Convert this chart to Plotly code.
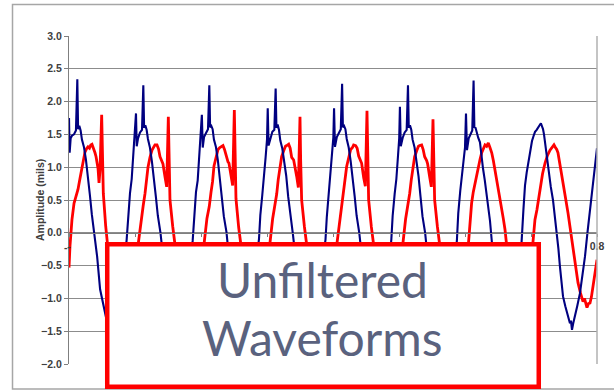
import plotly.graph_objects as go

# Blue channel: time (s) and amplitude (mils)
t_blue = [
    0.0000, 0.0010, 0.0025, 0.0045, 0.0075, 0.0105, 0.0126, 0.0138, 0.0156, 0.0176, 0.0196, 0.0226, 0.0256,
    0.0286, 0.0316, 0.0346, 0.0386, 0.0426, 0.0471, 0.0516, 0.0576, 0.0626, 0.0686, 0.0746, 0.0806, 0.0846,
    0.0874, 0.0894, 0.0924, 0.0950, 0.0974, 0.1000, 0.1015, 0.1026, 0.1046, 0.1076, 0.1106, 0.1126, 0.1138,
    0.1156, 0.1176, 0.1196, 0.1226, 0.1256, 0.1286, 0.1316, 0.1346, 0.1386, 0.1426, 0.1471, 0.1516, 0.1576,
    0.1626, 0.1686, 0.1746, 0.1806, 0.1846,
    0.1874, 0.1894, 0.1924, 0.1950, 0.1974, 0.2000, 0.2013, 0.2026, 0.2046, 0.2076, 0.2106, 0.2126, 0.2138,
    0.2156, 0.2176, 0.2196, 0.2226, 0.2256, 0.2286, 0.2316, 0.2346, 0.2386, 0.2426, 0.2471, 0.2516, 0.2576,
    0.2626, 0.2686, 0.2746, 0.2806, 0.2846,
    0.2879, 0.2899, 0.2929, 0.2955, 0.2979, 0.3000, 0.3011, 0.3024, 0.3051, 0.3081, 0.3111, 0.3131, 0.3143,
    0.3161, 0.3181, 0.3201, 0.3231, 0.3261, 0.3291, 0.3321, 0.3351, 0.3391, 0.3431, 0.3476, 0.3521, 0.3581,
    0.3631, 0.3691, 0.3751, 0.3811, 0.3851,
    0.3886, 0.3906, 0.3936, 0.3962, 0.3986, 0.4005, 0.4016, 0.4030, 0.4058, 0.4088, 0.4118, 0.4138, 0.4150,
    0.4168, 0.4188, 0.4208, 0.4238, 0.4268, 0.4298, 0.4328, 0.4358, 0.4398, 0.4438, 0.4483, 0.4528, 0.4588,
    0.4638, 0.4698, 0.4758, 0.4818, 0.4858,
    0.4884, 0.4904, 0.4934, 0.4960, 0.4984, 0.5003, 0.5014, 0.5027, 0.5056, 0.5086, 0.5116, 0.5136, 0.5148,
    0.5166, 0.5186, 0.5206, 0.5236, 0.5266, 0.5296, 0.5326, 0.5356, 0.5396, 0.5436, 0.5481, 0.5526, 0.5586,
    0.5636, 0.5696, 0.5756, 0.5816, 0.5856,
    0.5878, 0.5898, 0.5928, 0.5954, 0.5978, 0.6000, 0.6015, 0.6030, 0.6056, 0.6086, 0.6110, 0.6130, 0.6142,
    0.6160, 0.6180, 0.6200, 0.6227, 0.6250, 0.6273, 0.6300, 0.6329, 0.6355, 0.6379, 0.6414, 0.6450, 0.6520,
    0.6580, 0.6640, 0.6700, 0.6760, 0.6810,
    0.6855, 0.6885, 0.6909, 0.6935, 0.6960, 0.6985, 0.7015, 0.7040, 0.7061, 0.7086, 0.7110, 0.7130, 0.7150,
    0.7168, 0.7182, 0.7197, 0.7220, 0.7240, 0.7258, 0.7280, 0.7300, 0.7333, 0.7360, 0.7394, 0.7415, 0.7439,
    0.7460, 0.7485, 0.7520, 0.7561, 0.7590, 0.7605, 0.7621, 0.7640, 0.7667, 0.7700, 0.7742, 0.7780, 0.7818,
    0.7855, 0.7894, 0.7930, 0.7970, 0.8000,
]
amp_blue = [
    1.75, 1.22, 1.44, 1.48, 1.50, 1.56, 2.34, 1.58, 1.63, 1.56, 1.42, 1.31, 1.12,
    0.88, 0.58, 0.28, 0.00, -0.36, -0.86, -1.10, -1.36, -1.45, -1.38, -1.08, -0.68, -0.40,
    -0.10, 0.25, 0.60, 0.82, 1.16, 1.46, 1.82, 1.32, 1.44, 1.53, 1.57, 2.25, 1.60,
    1.64, 1.57, 1.43, 1.30, 1.09, 0.86, 0.55, 0.26, 0.00, -0.37, -0.85, -1.11, -1.36,
    -1.46, -1.38, -1.07, -0.68, -0.41,
    -0.12, 0.22, 0.62, 0.80, 1.18, 1.44, 1.80, 1.30, 1.46, 1.52, 1.58, 2.25, 1.61,
    1.63, 1.58, 1.42, 1.31, 1.10, 0.84, 0.57, 0.25, 0.01, -0.38, -0.86, -1.10, -1.35,
    -1.45, -1.37, -1.08, -0.69, -0.40,
    -0.09, 0.27, 0.58, 0.83, 1.15, 1.42, 1.90, 1.33, 1.45, 1.54, 1.57, 2.20, 1.60,
    1.65, 1.57, 1.41, 1.29, 1.11, 0.87, 0.55, 0.27, -0.01, -0.37, -0.84, -1.11, -1.36,
    -1.46, -1.38, -1.08, -0.67, -0.40,
    -0.11, 0.24, 0.61, 0.81, 1.17, 1.45, 1.90, 1.31, 1.46, 1.52, 1.58, 2.27, 1.61,
    1.63, 1.58, 1.43, 1.30, 1.09, 0.85, 0.56, 0.26, 0.00, -0.37, -0.85, -1.10, -1.36,
    -1.45, -1.38, -1.08, -0.68, -0.40,
    -0.10, 0.26, 0.59, 0.82, 1.16, 1.44, 1.92, 1.32, 1.45, 1.53, 1.57, 2.25, 1.60,
    1.64, 1.57, 1.42, 1.30, 1.10, 0.86, 0.55, 0.25, 0.00, -0.38, -0.85, -1.10, -1.36,
    -1.45, -1.38, -1.08, -0.68, -0.40,
    -0.10, 0.30, 0.64, 0.90, 1.18, 1.30, 1.82, 1.26, 1.44, 1.50, 1.56, 2.32, 1.61,
    1.60, 1.52, 1.45, 1.38, 1.15, 0.98, 0.80, 0.58, 0.38, 0.18, -0.22, -0.62, -1.10,
    -1.38, -1.45, -1.32, -0.95, -0.55,
    -0.18, 0.35, 0.72, 0.92, 1.08, 1.26, 1.40, 1.48, 1.54, 1.57, 1.60, 1.64, 1.67,
    1.62, 1.58, 1.50, 1.30, 1.18, 1.00, 0.84, 0.70, 0.50, 0.26, 0.00, -0.24, -0.52,
    -0.74, -0.97, -1.12, -1.28, -1.38, -1.34, -1.48, -1.38, -1.28, -1.12, -0.92, -0.64, -0.36,
    0.00, 0.35, 0.68, 0.96, 1.29,
]

# Red channel: time (s) and amplitude (mils)
t_red = [
    0.0000, 0.0015, 0.0045, 0.0076, 0.0105, 0.0136, 0.0165, 0.0197, 0.0220, 0.0242, 0.0265, 0.0288, 0.0310,
    0.0330, 0.0348, 0.0370, 0.0394, 0.0410, 0.0424, 0.0440, 0.0455, 0.0470, 0.0495, 0.0505, 0.0520, 0.0556,
    0.0586, 0.0655, 0.0735, 0.0815, 0.0895, 0.0975, 0.1015,
    0.1045, 0.1090, 0.1125, 0.1152, 0.1175, 0.1197, 0.1227, 0.1258, 0.1285, 0.1303, 0.1333, 0.1356, 0.1379,
    0.1409, 0.1424, 0.1455, 0.1480, 0.1505, 0.1515, 0.1530, 0.1571, 0.1606, 0.1665, 0.1745, 0.1825, 0.1905,
    0.1985, 0.2025,
    0.2045, 0.2090, 0.2125, 0.2152, 0.2175, 0.2197, 0.2227, 0.2258, 0.2285, 0.2303, 0.2333, 0.2356, 0.2379,
    0.2409, 0.2424, 0.2455, 0.2480, 0.2505, 0.2515, 0.2530, 0.2571, 0.2606, 0.2665, 0.2745, 0.2825, 0.2905,
    0.2985, 0.3020,
    0.3040, 0.3085, 0.3120, 0.3147, 0.3170, 0.3192, 0.3222, 0.3253, 0.3280, 0.3298, 0.3328, 0.3351, 0.3374,
    0.3404, 0.3419, 0.3450, 0.3475, 0.3500, 0.3510, 0.3525, 0.3566, 0.3601, 0.3660, 0.3740, 0.3820, 0.3900,
    0.3980, 0.4020,
    0.4055, 0.4100, 0.4135, 0.4162, 0.4185, 0.4207, 0.4237, 0.4268, 0.4295, 0.4313, 0.4343, 0.4366, 0.4389,
    0.4419, 0.4434, 0.4465, 0.4490, 0.4515, 0.4525, 0.4540, 0.4581, 0.4616, 0.4675, 0.4755, 0.4835, 0.4915,
    0.4995, 0.5035,
    0.5055, 0.5100, 0.5135, 0.5162, 0.5185, 0.5207, 0.5237, 0.5268, 0.5295, 0.5313, 0.5343, 0.5366, 0.5389,
    0.5419, 0.5434, 0.5465, 0.5490, 0.5515, 0.5525, 0.5540, 0.5581, 0.5616, 0.5675, 0.5755, 0.5835, 0.5915,
    0.5995, 0.6030,
    0.6050, 0.6075, 0.6100, 0.6125, 0.6152, 0.6177, 0.6202, 0.6228, 0.6253, 0.6278, 0.6303, 0.6328, 0.6353,
    0.6378, 0.6405, 0.6430, 0.6455, 0.6480, 0.6505, 0.6530, 0.6556, 0.6580, 0.6606, 0.6632, 0.6690, 0.6760,
    0.6840, 0.6920, 0.6980, 0.7010,
    0.7030, 0.7060, 0.7090, 0.7136, 0.7175, 0.7212, 0.7250, 0.7288, 0.7320, 0.7348, 0.7370, 0.7390, 0.7409,
    0.7440, 0.7460, 0.7485, 0.7520, 0.7561, 0.7600, 0.7636, 0.7675, 0.7712, 0.7750, 0.7788, 0.7810, 0.7830,
    0.7848, 0.7870, 0.7894, 0.7915, 0.7939, 0.7970, 0.8000,
]
amp_red = [
    -0.53, -0.20, 0.20, 0.45, 0.55, 0.66, 0.82, 1.00, 1.15, 1.23, 1.28, 1.31, 1.29,
    1.34, 1.35, 1.30, 1.22, 1.16, 1.07, 0.98, 0.76, 0.96, 1.80, 1.11, 0.60, 0.10,
    -0.20, -0.65, -1.05, -1.20, -1.10, -0.75, -0.48,
    -0.20, 0.20, 0.42, 0.60, 0.80, 1.00, 1.15, 1.26, 1.31, 1.34, 1.34, 1.28, 1.16,
    1.10, 1.05, 0.85, 0.70, 1.77, 1.10, 0.50, 0.10, -0.20, -0.65, -1.05, -1.20, -1.10,
    -0.75, -0.48,
    -0.18, 0.22, 0.40, 0.62, 0.78, 1.02, 1.14, 1.27, 1.30, 1.31, 1.33, 1.27, 1.18,
    1.08, 1.06, 0.84, 0.72, 1.87, 1.08, 0.52, 0.08, -0.20, -0.66, -1.05, -1.21, -1.10,
    -0.74, -0.50,
    -0.20, 0.21, 0.43, 0.59, 0.81, 0.99, 1.16, 1.25, 1.32, 1.33, 1.35, 1.29, 1.15,
    1.11, 1.04, 0.86, 0.69, 1.77, 1.10, 0.50, 0.10, -0.20, -0.65, -1.04, -1.20, -1.11,
    -0.76, -0.48,
    -0.20, 0.20, 0.41, 0.61, 0.79, 1.01, 1.14, 1.27, 1.30, 1.34, 1.33, 1.29, 1.17,
    1.09, 1.06, 0.84, 0.71, 1.86, 1.10, 0.50, 0.09, -0.20, -0.65, -1.05, -1.20, -1.10,
    -0.75, -0.48,
    -0.20, 0.21, 0.42, 0.60, 0.80, 0.98, 1.16, 1.25, 1.32, 1.33, 1.34, 1.27, 1.16,
    1.10, 1.05, 0.85, 0.70, 1.73, 1.10, 0.50, 0.10, -0.20, -0.65, -1.05, -1.20, -1.10,
    -0.75, -0.45,
    -0.20, 0.10, 0.45, 0.62, 0.76, 0.90, 1.00, 1.12, 1.22, 1.28, 1.34, 1.32, 1.37,
    1.30, 1.22, 1.10, 0.96, 0.84, 0.70, 0.55, 0.40, 0.22, 0.05, -0.20, -0.62, -1.02,
    -1.15, -1.05, -0.70, -0.40,
    -0.10, 0.20, 0.35, 0.65, 0.90, 1.06, 1.18, 1.26, 1.30, 1.34, 1.30, 1.27, 1.22,
    1.05, 0.92, 0.76, 0.55, 0.30, 0.02, -0.26, -0.52, -0.76, -0.92, -1.05, -1.00, -1.10,
    -1.14, -1.08, -1.07, -0.98, -0.82, -0.62, -0.41,
]

y_ticks = [-2.0, -1.5, -1.0, -0.5, 0.0, 0.5, 1.0, 1.5, 2.0, 2.5, 3.0]
x_ticks = [0.0, 0.1, 0.2, 0.3, 0.4, 0.5, 0.6, 0.7, 0.8]
x_tick_text = ["-", "0.1", "0.2", "0.3", "0.4", "0.5", "0.6", "0.7", "0.8"]

axis_font = dict(family="Liberation Sans", size=10.5, color="#404040", weight="bold")

fig = go.Figure()
fig.add_trace(go.Scatter(x=t_red, y=amp_red, mode="lines",
                         line=dict(color="#ff0000", width=2.8), showlegend=False))
fig.add_trace(go.Scatter(x=t_blue, y=amp_blue, mode="lines",
                         line=dict(color="#000080", width=2.1), showlegend=False))

fig.update_layout(
    width=614, height=391,
    margin=dict(l=69, r=17, t=36, b=27, autoexpand=False),
    paper_bgcolor="white", plot_bgcolor="white",
    xaxis=dict(range=[0, 0.8], anchor="free", position=0.4,
               tickvals=x_ticks, ticktext=x_tick_text,
               showgrid=False, zeroline=False, showline=True,
               linecolor="#7f7f7f", linewidth=1.2,
               ticks="outside", ticklen=3, tickcolor="#7f7f7f",
               tickfont=axis_font),
    yaxis=dict(range=[-2, 3], tickvals=y_ticks, tickformat=".1f",
               showgrid=True, gridcolor="#8c8c8c", gridwidth=1.2,
               zeroline=False, showline=True, linecolor="#7f7f7f", linewidth=1.2,
               ticks="outside", ticklen=4, tickcolor="#7f7f7f",
               tickfont=axis_font, automargin=False),
)

# y-axis title placed next to the tick labels
fig.add_annotation(text="Amplitude (mils)", xref="paper", yref="paper", x=-0.0549, y=0.5,
                   xanchor="center", yanchor="middle", textangle=-90, showarrow=False,
                   font=axis_font)
# zero label of the time axis, written as a dash
fig.add_annotation(text="-", xref="paper", yref="paper", x=-0.006, y=0.357,
                   xanchor="center", yanchor="middle", showarrow=False, font=axis_font)

# chart frame, right border of the plot area, and the caption box
fig.add_shape(type="rect", xref="paper", yref="paper",
              x0=-0.107, x1=1.05, y0=-0.0762, y1=1.096,
              line=dict(color="#a6a6a6", width=1.5), layer="below")
fig.add_shape(type="line", xref="paper", yref="paper", x0=1, x1=1, y0=0, y1=1,
              line=dict(color="#b0b0b0", width=1.5))
fig.add_shape(type="rect", xref="paper", yref="paper",
              x0=0.0724, x1=0.8897, y0=-0.0694, y1=0.3651,
              line=dict(color="#ff0000", width=4.5), fillcolor="white", layer="above")

caption_font = dict(family="Lato", size=48, color="#5a627e")
fig.add_annotation(text="Unfiltered", xref="paper", yref="paper", x=0.481, y=0.2576,
                   xanchor="center", yanchor="middle", showarrow=False, font=caption_font)
fig.add_annotation(text="Waveforms", xref="paper", yref="paper", x=0.481, y=0.0808,
                   xanchor="center", yanchor="middle", showarrow=False, font=caption_font)

fig.write_html("out.html")
